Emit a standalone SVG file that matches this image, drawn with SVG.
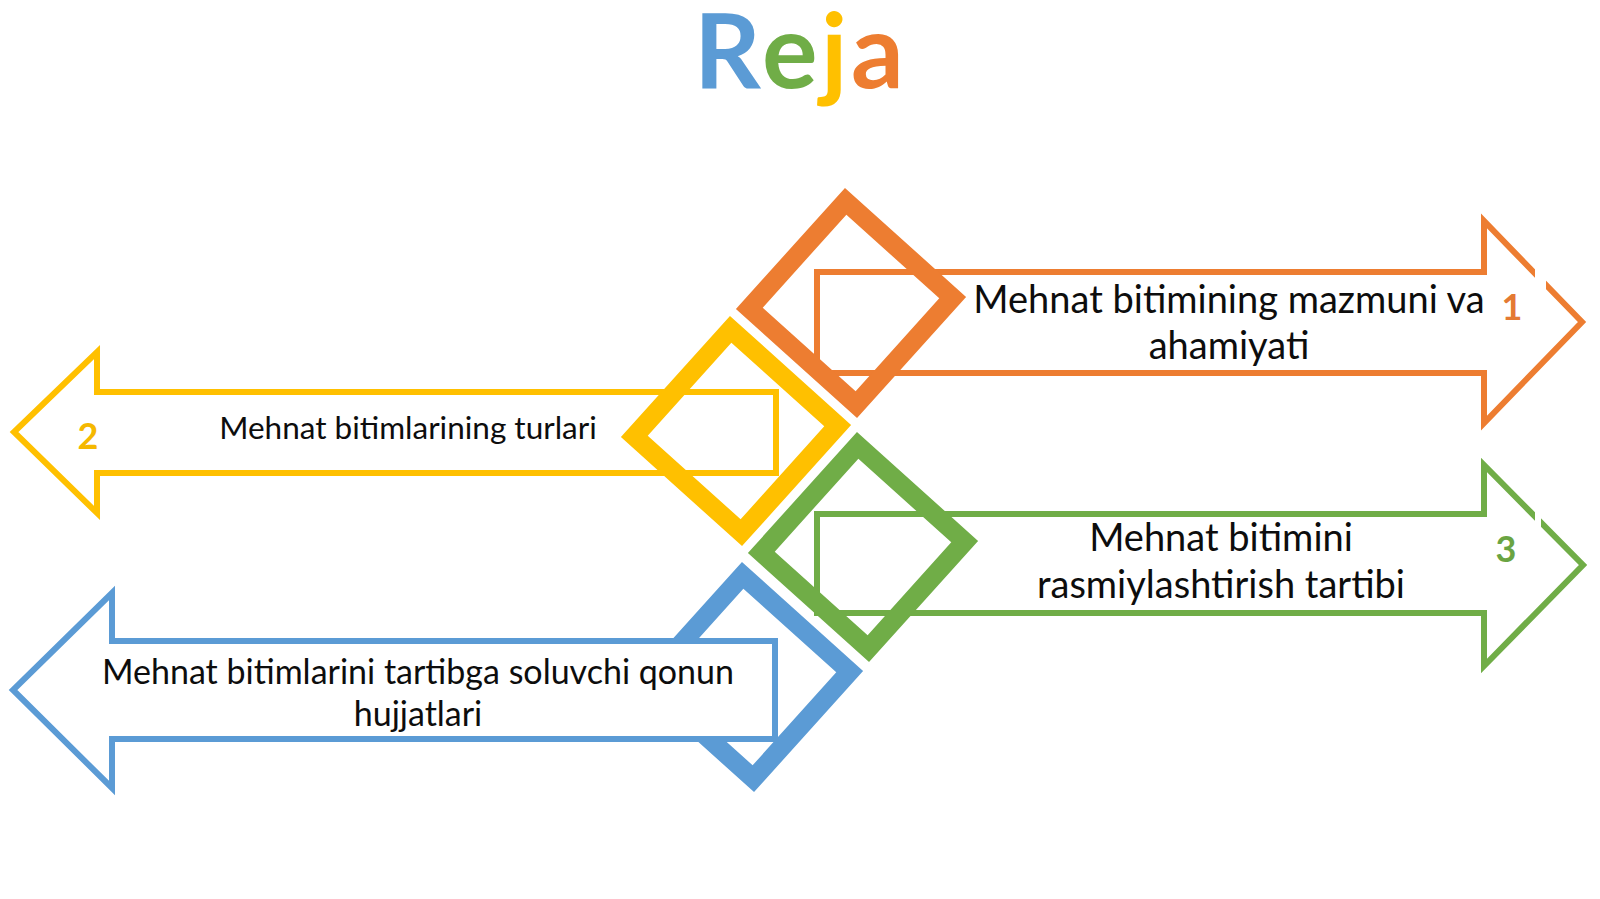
<svg xmlns="http://www.w3.org/2000/svg" width="1600" height="899" viewBox="0 0 1600 899">
  <style>
    .lbl { font-family: Lato, "Open Sans", "Liberation Sans", sans-serif; fill: #0d0d0d; text-anchor: middle; }
    .num { font-family: Lato, "Open Sans", "Liberation Sans", sans-serif; font-weight: 700; font-size: 36px; text-anchor: middle; }
    .ttl { font-family: Lato, "Open Sans", "Liberation Sans", sans-serif; font-weight: 700; font-size: 104px; }
    .arrow { fill: #ffffff; stroke-width: 6; stroke-linejoin: miter; }
    .dia { fill: none; stroke-width: 19; }
    .orange { stroke: #ED7D31; }
    .yellow { stroke: #FFC000; }
    .green { stroke: #70AD47; }
    .blue { stroke: #5B9BD5; }
  </style>
  <defs>
    <rect id="sq" x="-72" y="-72" width="144" height="144"/>
  </defs>
  <rect width="1600" height="899" fill="#ffffff"/>

  <g id="title">
    <text class="ttl" x="694" y="88" fill="#5B9BD5">R</text>
    <text class="ttl" x="762" y="88" fill="#70AD47">e</text>
    <text class="ttl" x="821" y="88" fill="#FFC000">j</text>
    <text class="ttl" x="851" y="88" fill="#ED7D31">a</text>
  </g>

  <g id="connectors"></g>

  <g id="node-1">
    <path class="arrow orange" d="M817,272 H1484 V221 L1582,322 L1484,423 V373 H817 Z"/>
    <rect x="1535" y="262" width="11" height="28" fill="#ffffff"/>
    <use href="#sq" class="dia orange" transform="translate(851,303) rotate(42)"/>
    <text class="lbl" font-size="38" x="1229" y="313">Mehnat bitimining mazmuni va</text>
    <text class="lbl" font-size="38" x="1229" y="359">ahamiyati</text>
    <text class="num" fill="#E47A33" x="1512" y="320">1</text>
  </g>

  <g id="node-2">
    <path class="arrow yellow" d="M776,392 H97 V352 L14,432 L97,513 V473 H776 Z"/>
    <use href="#sq" class="dia yellow" transform="translate(736,431) rotate(42)"/>
    <text class="lbl" font-size="31.5" x="408" y="439">Mehnat bitimlarining turlari</text>
    <text class="num" fill="#F5B800" x="88" y="449">2</text>
  </g>

  <g id="node-3">
    <path class="arrow green" d="M817,514 H1484 V465 L1583,565 L1484,666 V613 H817 Z"/>
    <rect x="1535" y="505" width="6" height="26" fill="#ffffff"/>
    <use href="#sq" class="dia green" transform="translate(863,547) rotate(42)"/>
    <text class="lbl" font-size="38" x="1221" y="551">Mehnat bitimini</text>
    <text class="lbl" font-size="38" x="1221" y="598">rasmiylashtirish tartibi</text>
    <text class="num" fill="#6AA442" x="1506" y="562">3</text>
  </g>

  <g id="node-4">
    <use href="#sq" class="dia blue" transform="translate(748,677) rotate(42)"/>
    <path class="arrow blue" d="M775,641 H112 V593 L13,690 L112,788 V739 H775 Z"/>
    <text class="lbl" font-size="34" x="418" y="684">Mehnat bitimlarini tartibga soluvchi qonun</text>
    <text class="lbl" font-size="34" x="418" y="726">hujjatlari</text>
  </g>
</svg>
